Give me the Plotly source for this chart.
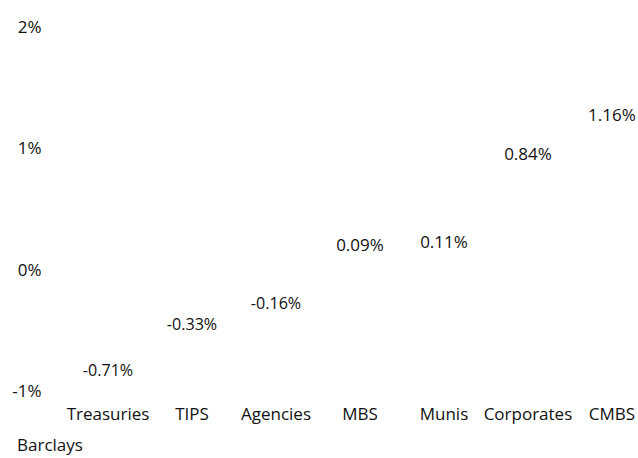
import plotly.graph_objects as go

categories = ["Treasuries", "TIPS", "Agencies", "MBS", "Munis", "Corporates", "CMBS"]
returns = [-0.71, -0.33, -0.16, 0.09, 0.11, 0.84, 1.16]
labels = ["-0.71%", "-0.33%", "-0.16%", "0.09%", "0.11%", "0.84%", "1.16%"]
y_ticks = [-1, 0, 1, 2]
y_tick_text = ["-1%", "0%", "1%", "2%"]
source = "Barclays"

FONT = "Open Sans"
SIZE = 17
xs = list(range(len(categories)))

fig = go.Figure()
fig.add_trace(go.Bar(
    x=xs, y=returns, text=labels, textposition="outside",
    marker=dict(color="rgba(0,0,0,0)", line=dict(width=0)),
    textfont=dict(family=FONT, size=SIZE, color="#111"),
    cliponaxis=False, width=0.6,
))

fig.update_layout(
    width=638, height=458,
    margin=dict(l=66, r=0, t=27, b=67, autoexpand=False),
    paper_bgcolor="white", plot_bgcolor="white",
    showlegend=False,
    font=dict(family=FONT, size=SIZE, color="#111"),
    xaxis=dict(range=[-0.5, 6.31], tickvals=xs, ticktext=categories,
               showgrid=False, zeroline=False, showline=False, automargin=False,
               ticks="outside", ticklen=8, tickcolor="rgba(0,0,0,0)",
               tickfont=dict(size=SIZE)),
    yaxis=dict(range=[-1, 2], tickvals=y_ticks, ticktext=y_tick_text,
               showgrid=False, zeroline=False, showline=False, automargin=False,
               ticks="outside", ticklen=20, tickcolor="rgba(0,0,0,0)",
               tickfont=dict(size=SIZE)),
    annotations=[dict(text=source, x=0, y=0, xref="paper", yref="paper",
                      xanchor="left", yanchor="bottom", showarrow=False,
                      xshift=-51, yshift=-67, font=dict(size=SIZE))],
)

fig.write_html(
    "out.html",
    config={"displayModeBar": False},
    post_script="document.body.style.margin='0';document.body.style.overflow='hidden';",
)
